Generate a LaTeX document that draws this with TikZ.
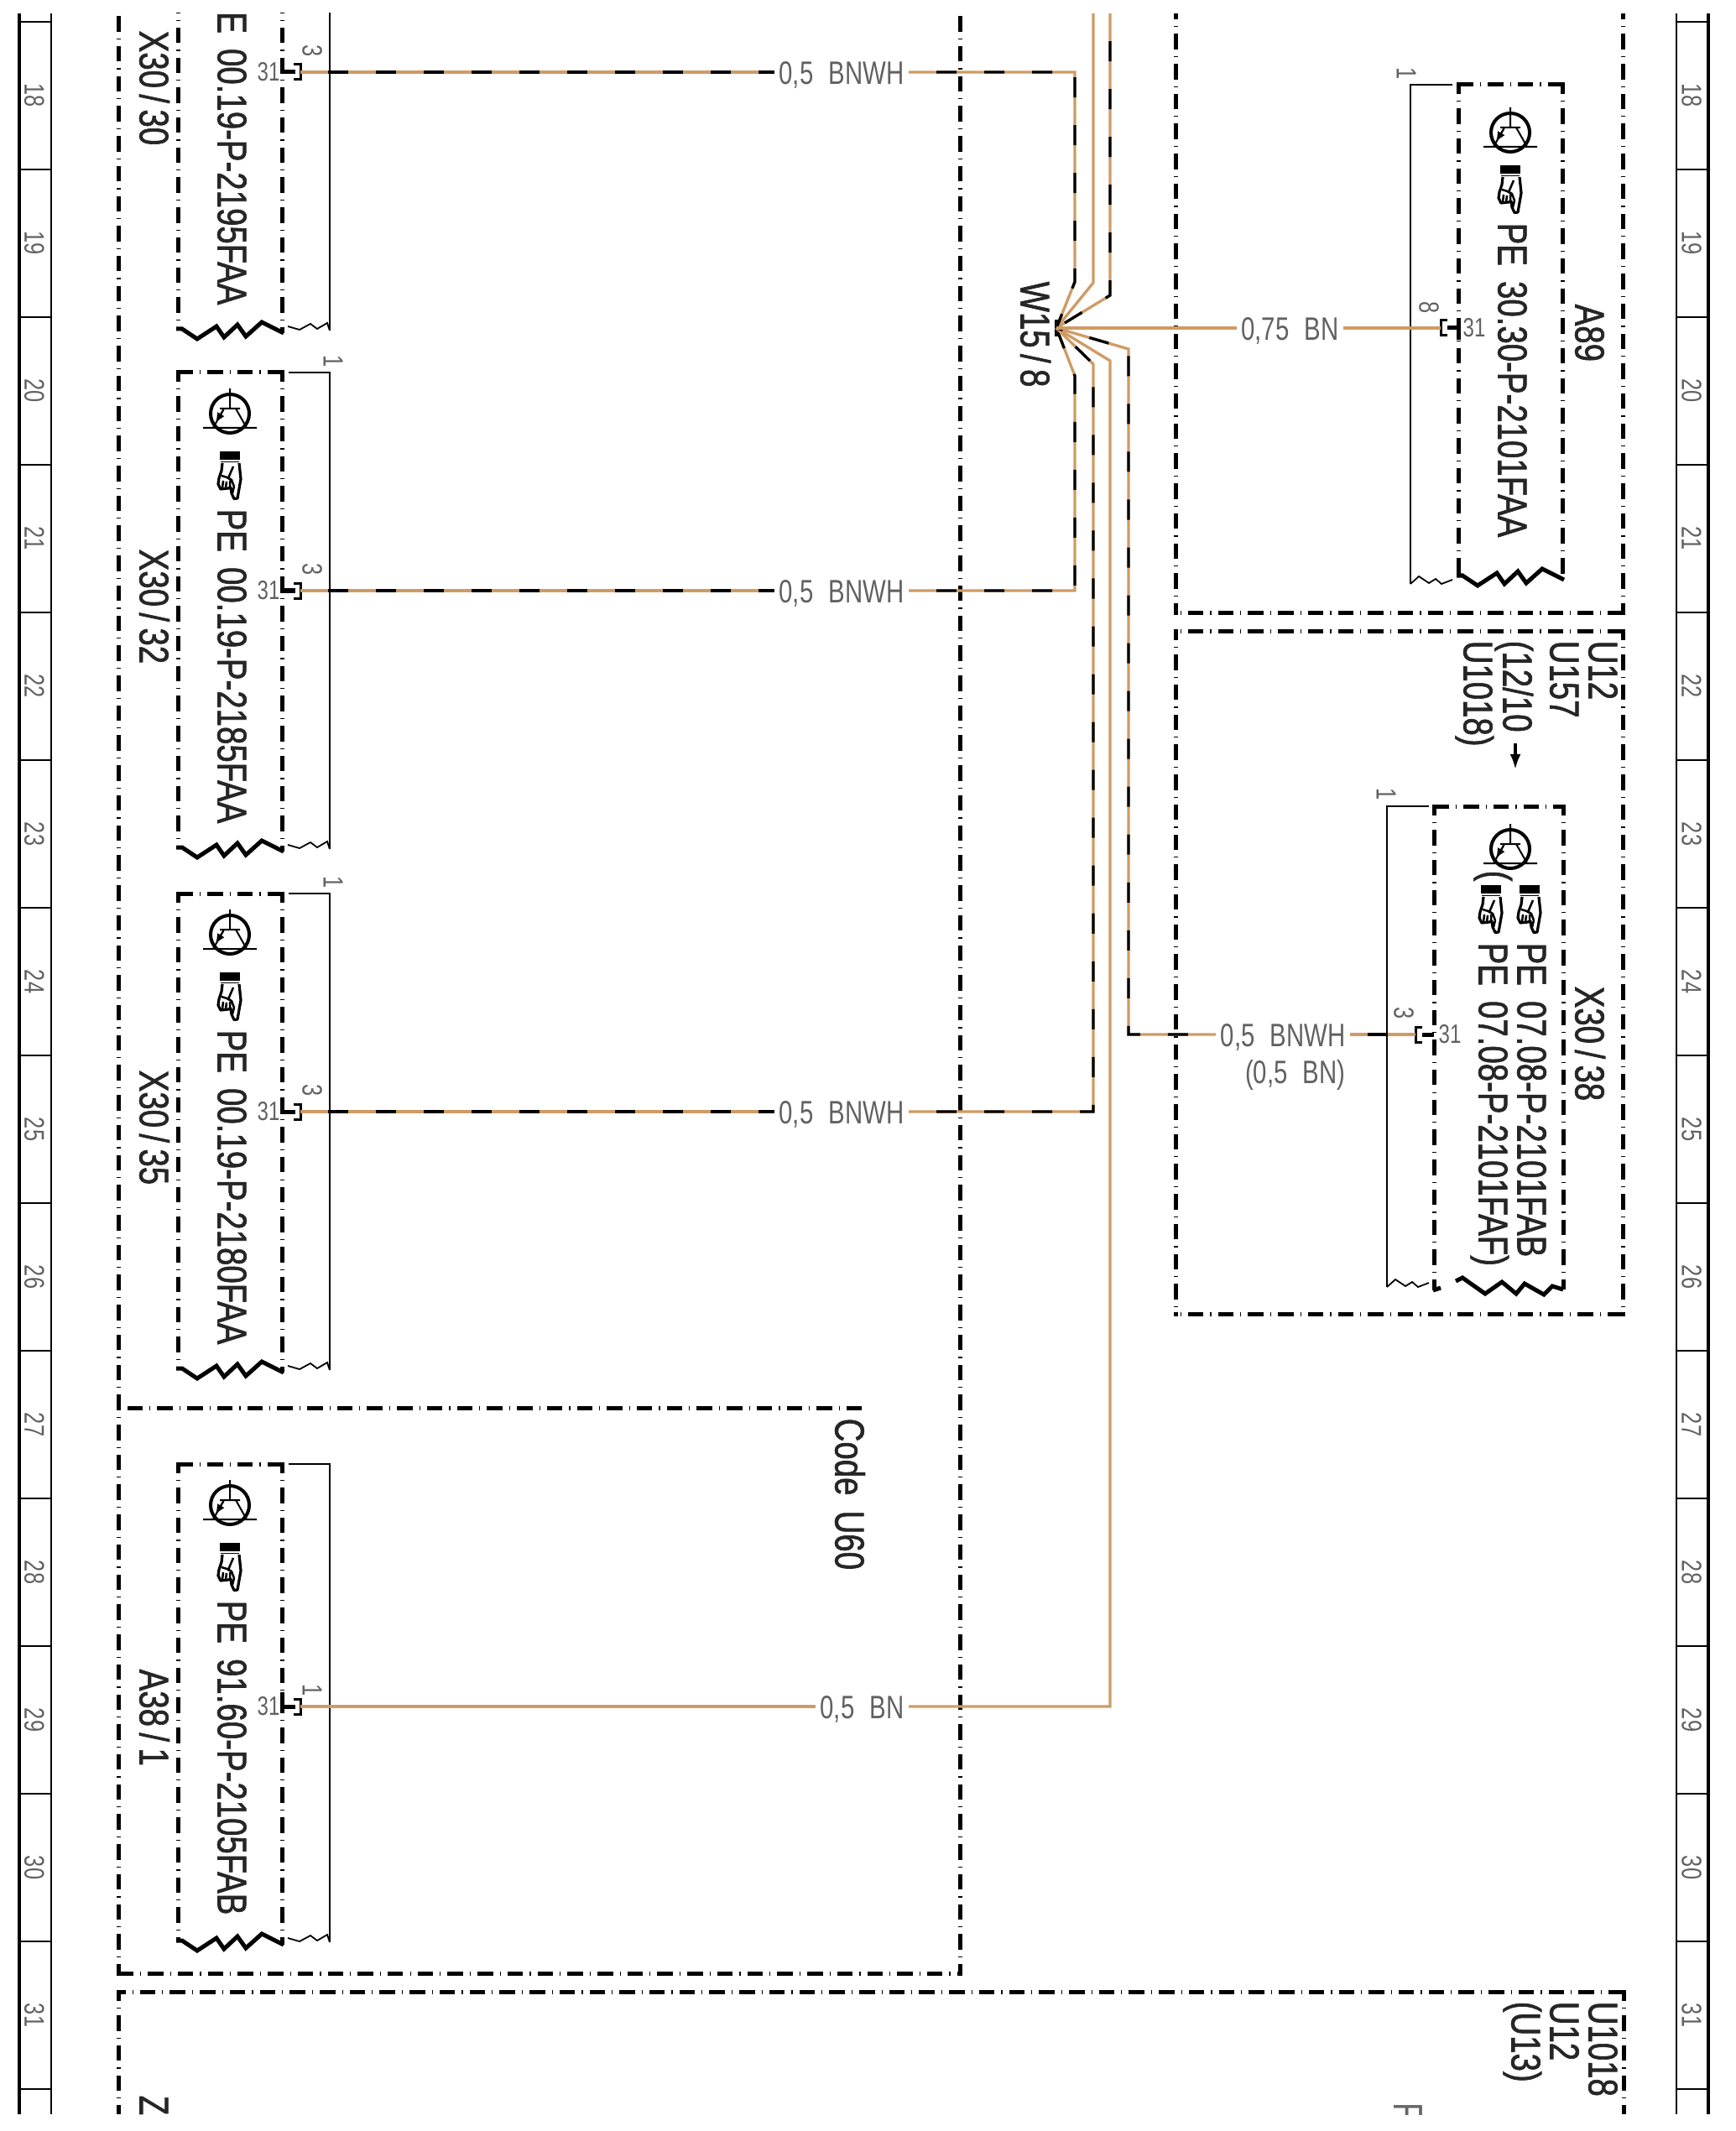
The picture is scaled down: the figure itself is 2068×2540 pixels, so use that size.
\documentclass[tikz,border=0pt]{standalone}
\usepackage{fontspec}
\usepackage{tikz}
\usetikzlibrary{arrows.meta, calc}
\setmainfont{Liberation Sans}
\newfontfamily\boldfont[FakeStretch=0.78,FakeBold=1.3,WordSpace=1.7]{Liberation Sans}
\newfontfamily\thinfont[FakeStretch=0.76,WordSpace=2.2]{Liberation Sans}
\newcommand{\sla}{\kern.15em/\kern.15em}
\definecolor{wiretan}{RGB}{207,155,100}
\tikzset{
  framedash/.style={line width=.05cm, dash pattern=on .185cm off .08cm on .012cm off .08cm, dash phase=.075cm},
  framerun/.style={framedash, dash phase=.005cm},
  thinline/.style={line width=.025cm},
  wiretn/.style={draw=wiretan, line width=.033cm},
  wirebw/.style={draw=wiretan, line width=.033cm, postaction={draw=black, dash pattern=on .24cm off .33cm, dash phase=.24cm}},
  boldlabel/.style={font=\boldfont\fontsize{14}{14}\selectfont, text=black!85, rotate=-90, anchor=west, inner sep=0pt, text height=.29cm, text depth=0pt},
  wirelabel/.style={font=\thinfont\fontsize{11}{11}\selectfont, text=black!62, inner sep=.05cm, text height=.28cm, text depth=0pt, anchor=east},
  pinlabel/.style={font=\thinfont\fontsize{9}{9}\selectfont, text=black!62, inner sep=0pt},
  strand/.style={pinlabel, rotate=-90, font=\thinfont\fontsize{9.5}{9.5}\selectfont},
  pics/transistor/.style={code={
    \draw[line width=.04cm] (0,0) circle[radius=.23cm];
    \draw[line width=.02cm] (0,-30) -- (0,-6) (-12,-6) -- (12,-6) (7,-6) -- (20,17) (-7,-6) -- (-20,17) (-32,17) -- (32,17);
    \draw[line width=.02cm, -{Latex[length=.12cm,width=.1cm]}] (-8,-4) -- (-17,11);
  }},
  pics/hand/.style={code={
    \fill (-12,-28) rectangle (12,-18);
    \draw[line width=.015cm] (-11,-15.5) -- (11,-15.5);
    \draw[line width=.032cm, line join=round] (-9,-14) -- (-10,-5) -- (-13,4) -- (-14,11) -- (-11,17) -- (-2,16) -- (1,15) -- (2,22) -- (5,28.5) -- (9,28) -- (13,5) -- (11,-14);
    \draw[line width=.025cm] (-8,7) -- (-9,16) (-4,8) -- (-5,16) (0,7) -- (0,15) (4,-10) -- (-2,4) -- (2,6) -- (5,14) (5,14) -- (3,22) (-10,1) -- (0,4);
  }},
  pics/bigzig/.style={code={
    \draw[line width=.05cm] (-2,-2) -- (5,-2) -- (23,10) -- (46,-5) -- (55,8) -- (71,-7) -- (81,7) -- (100,-10) -- (126,3);
  }},
  pics/thinzigl/.style={code={
    \draw[line width=.018cm] (0,0) -- (-3,-9) -- (-15,-2) -- (-23,-8) -- (-36,-1) -- (-50,-5);
  }},
  pics/thinzigr/.style={code={
    \draw[line width=.018cm] (0,0) -- (10,-9) -- (22,-1) -- (30,-6) -- (37,0) -- (50,-5);
  }},
  pics/pinleft/.style={code={
    \draw[line width=.05cm] (-22,-17) -- (-22,0) -- (-6,0);
    \draw[line width=.03cm] (-8,-9) -- (0,-9) -- (0,9) -- (-8,9);
  }},
  pics/pinright/.style={code={
    \draw[line width=.05cm] (8,0) -- (22,0);
    \draw[line width=.03cm] (8,-9) -- (0,-9) -- (0,9) -- (8,9);
  }},
}
\begin{document}
\begin{tikzpicture}[x=.01cm, y=-.01cm]
  \useasboundingbox (0,0) rectangle (2068,2540);
  \begin{scope}
  \clip (0,16) rectangle (2068,2520);

  % Strips
  \draw[line width=.04cm] (23,16) -- (23,2520) (2036,16) -- (2036,2520);
  \draw[line width=.025cm] (61,16) -- (61,2520) (1998,16) -- (1998,2520);
  \foreach \k in {0,...,14} {
    \draw[line width=.02cm] (23,26+176*\k) -- (61,26+176*\k);
    \draw[line width=.02cm] (1998,26+176*\k) -- (2036,26+176*\k);
  }
  \foreach \n in {18,...,31} {
    \node[strand] (stripl\n) at (41,114+176*\n-3168) {\n};
    \node[strand] (stripr\n) at (2016,114+176*\n-3168) {\n};
  }

  % Frames
  \draw[framedash] (141,2352) -- (141,16);
  \draw[framerun] (141,2352) -- (1144,2352);
  \draw[framedash] (1144,2352) -- (1144,16);
  \draw[framerun] (1027,1678) -- (141,1678);
  \draw[framedash] (1401,730) -- (1401,16);
  \draw[framerun] (1934,730) -- (1401,730);
  \draw[framedash] (1934,730) -- (1934,16);
  \draw[framedash] (1401,752) -- (1401,1566);
  \draw[framerun] (1934,752) -- (1401,752);
  \draw[framedash] (1934,752) -- (1934,1566);
  \draw[framerun] (1934,1566) -- (1401,1566);
  \draw[framedash] (141,2374) -- (141,2520);
  \draw[framerun] (1935,2374) -- (141,2374);
  \draw[framedash] (1935,2374) -- (1935,2520);
  \foreach \c in {{(141,2352)},{(1144,2352)},{(1401,730)},{(1934,730)},{(1401,752)},{(1934,752)},{(1401,1566)},{(1934,1566)},{(141,2374)},{(1935,2374)}}
    \fill \c +(-2.5,-2.5) rectangle +(2.5,2.5);

  % Left units
  \foreach \nm/\T/\num/\pe in {3030/-174/3/00.19-P-2195FAA, 3032/444/3/00.19-P-2185FAA, 3035/1065/3/00.19-P-2180FAA} {
    \draw[framerun] (212,\T) -- (336,\T);
    \draw[framedash] (212,\T) -- (212,\T+566);
    \draw[framedash] (336,\T) -- (336,\T+571);
    \fill (212,\T) +(-2.5,-2.5) rectangle +(2.5,2.5);
    \fill (336,\T) +(-2.5,-2.5) rectangle +(2.5,2.5);
    \pic at (212,\T+568) {bigzig};
    \draw[thinline] (344,\T) -- (393,\T) -- (393,\T+568);
    \pic at (393,\T+568) {thinzigl};
    \node[strand] (one\nm) at (397,\T-13) {1};
    \pic at (274,\T+49) {transistor};
    \pic at (274,\T+122) {hand};
    \node[boldlabel] (pe\nm) at (274,\T+162) {PE \pe};
    \node[boldlabel] (name\nm) at (181,\T+210) {X30\sla\ifnum\nm=3030 30\else\ifnum\nm=3032 32\else 35\fi\fi};
    \coordinate (pin\nm) at (358,\T+260);
    \pic at (pin\nm) {pinleft};
    \node[pinlabel] (cav\nm) at (320,\T+260) {31};
    \node[strand] (num\nm) at (372,\T+235) {\num};
  }

  % A38/1
  \draw[framerun] (212,1745) -- (336,1745);
  \draw[framedash] (212,1745) -- (212,2313);
  \draw[framedash] (336,1745) -- (336,2318);
  \fill (212,1745) +(-2.5,-2.5) rectangle +(2.5,2.5);
  \fill (336,1745) +(-2.5,-2.5) rectangle +(2.5,2.5);
  \pic at (212,2315) {bigzig};
  \draw[thinline] (344,1745) -- (393,1745) -- (393,2315);
  \pic at (393,2315) {thinzigl};
  \pic at (274,1794) {transistor};
  \pic at (274,1867) {hand};
  \node[boldlabel] (peA381) at (274,1907) {PE 91.60-P-2105FAB};
  \node[boldlabel] (nameA381) at (181,1989) {A38\sla 1};
  \coordinate (pinA381) at (358,2034);
  \pic at (pinA381) {pinleft};
  \node[pinlabel] (cavA381) at (320,2034) {31};
  \node[strand] (numA381) at (372,2015) {1};
  \node[boldlabel] (codeU) at (1010,1690) {Code U60};

  % A89
  \draw[framerun] (1738,101) -- (1862,101);
  \draw[framedash] (1738,101) -- (1738,686);
  \draw[framedash] (1862,101) -- (1862,691);
  \fill (1738,101) +(-2.5,-2.5) rectangle +(2.5,2.5);
  \fill (1862,101) +(-2.5,-2.5) rectangle +(2.5,2.5);
  \pic at (1738,688) {bigzig};
  \draw[thinline] (1731,101) -- (1681,101) -- (1681,696);
  \pic at (1681,696) {thinzigr};
  \node[strand] (oneA89) at (1676,88) {1};
  \pic at (1800,158) {transistor};
  \pic at (1800,225) {hand};
  \node[boldlabel] (peA89) at (1800,265) {PE 30.30-P-2101FAA};
  \node[boldlabel] (nameA89) at (1892,362) {A89};
  \coordinate (pinA89) at (1717,391);
  \pic at (pinA89) {pinright};
  \draw[line width=.05cm] (1738,391) -- (1738,405);
  \node[pinlabel] (cavA89) at (1757,391) {31};
  \node[strand] (numA89) at (1703,367) {8};

  % X30/38
  \draw[framerun] (1709,961) -- (1863,961);
  \draw[framedash] (1709,961) -- (1709,1538);
  \draw[framedash] (1863,961) -- (1863,1537);
  \fill (1709,961) +(-2.5,-2.5) rectangle +(2.5,2.5);
  \fill (1863,961) +(-2.5,-2.5) rectangle +(2.5,2.5);
  \draw[line width=.05cm] (1708,1538) -- (1717,1535);
  \draw[line width=.05cm] (1735,1527) -- (1743,1523) -- (1770,1542) -- (1790,1528) -- (1807,1542) -- (1817,1530) -- (1840,1543) -- (1850,1533) -- (1863,1537);
  \draw[thinline] (1703,961) -- (1653,961) -- (1653,1534);
  \pic at (1653,1534) {thinzigr};
  \node[strand] (one3038) at (1652,947) {1};
  \pic at (1800,1012) {transistor};
  \pic at (1777,1083) {hand};
  \pic at (1823,1083) {hand};
  \node[boldlabel] (par3038) at (1781,1037) {(};
  \node[boldlabel] (pe3038a) at (1777,1123) {PE 07.08-P-2101FAF)};
  \node[boldlabel] (pe3038b) at (1823,1123) {PE 07.08-P-2101FAB};
  \node[boldlabel] (name3038) at (1892,1175) {X30\sla 38};
  \coordinate (pin3038) at (1687,1233);
  \pic at (pin3038) {pinright};
  \node[pinlabel] (cav3038) at (1728,1233) {31};
  \node[strand] (num3038) at (1673,1208) {3};

  % Codes
  \node[boldlabel] (codeA) at (1908,763) {U12};
  \node[boldlabel] (codeB) at (1862,763) {U157};
  \node[boldlabel] (codeC) at (1806,763) {(12/10};
  \node[boldlabel] (codeD) at (1759,763) {U1018)};
  \coordinate (arrowa) at (1806,886);
  \coordinate (arrowb) at (1806,917);
  \draw[line width=.035cm, -{Latex[length=.18cm,width=.13cm]}] (arrowa) -- (arrowb);
  \node[boldlabel] (codeE) at (1908,2385) {U1018};
  \node[boldlabel] (codeF) at (1862,2385) {U12};
  \node[boldlabel] (codeG) at (1816,2385) {(U13)};
  \node[boldlabel] (codeZ) at (181,2497) {Z};
  \node[boldlabel, text=black!60, font=\thinfont\fontsize{14}{14}\selectfont] (codeH) at (1676,2506) {F};

  % Wires
  \node[fill=black, inner sep=0pt, minimum width=.05cm, minimum height=.2cm] (w158) at (1259,391) {};
  \node[boldlabel] (namew) at (1231,335) {W15\sla 8};
  \node[wirelabel] (lab3030) at (1083,86) {0,5 BNWH};
  \node[wirelabel] (lab3032) at (1083,704) {0,5 BNWH};
  \node[wirelabel] (lab3035) at (1083,1325) {0,5 BNWH};
  \node[wirelabel] (labA381) at (1083,2034) {0,5 BN};
  \node[wirelabel] (labA89) at (1601,391) {0,75 BN};
  \node[wirelabel] (lab3038) at (1609,1233) {0,5 BNWH};
  \node[wirelabel] (lab3038b) at (1609,1277) {(0,5 BN)};
  \coordinate (kneea) at (1281,336);
  \coordinate (kneeb) at (1303,337);
  \coordinate (kneec) at (1323,352);
  \coordinate (kneed) at (1281,448);
  \coordinate (kneee) at (1303,434);
  \coordinate (kneef) at (1323,430);
  \coordinate (kneeg) at (1345,416);
  \coordinate (topb) at (1303,16);
  \coordinate (topc) at (1323,16);

  \draw[wiretn] (topb) -- (kneeb) -- (w158.center);
  \draw[wirebw] (topc) -- (kneec) -- (w158.center);
  \draw[wirebw] (pin3030) -- (lab3030.west);
  \draw[wirebw] (lab3030.east) -| (kneea) -- (w158.center);
  \draw[wirebw] (pin3032) -- (lab3032.west);
  \draw[wirebw] (lab3032.east) -| (kneed) -- (w158.center);
  \draw[wirebw] (pin3035) -- (lab3035.west);
  \draw[wirebw] (lab3035.east) -| (kneee) -- (w158.center);
  \draw[wiretn] (pinA381) -- (labA381.west);
  \draw[wiretn] (labA381.east) -| (kneef) -- (w158.center);
  \draw[wirebw] (pin3038) -- (lab3038.east);
  \draw[wirebw] (lab3038.west) -| (kneeg) -- (w158.center);
  \draw[wiretn] (w158.center) -- (labA89.west);
  \draw[wiretn] (labA89.east) -- (pinA89);
  \end{scope}
\end{tikzpicture}
\end{document}
